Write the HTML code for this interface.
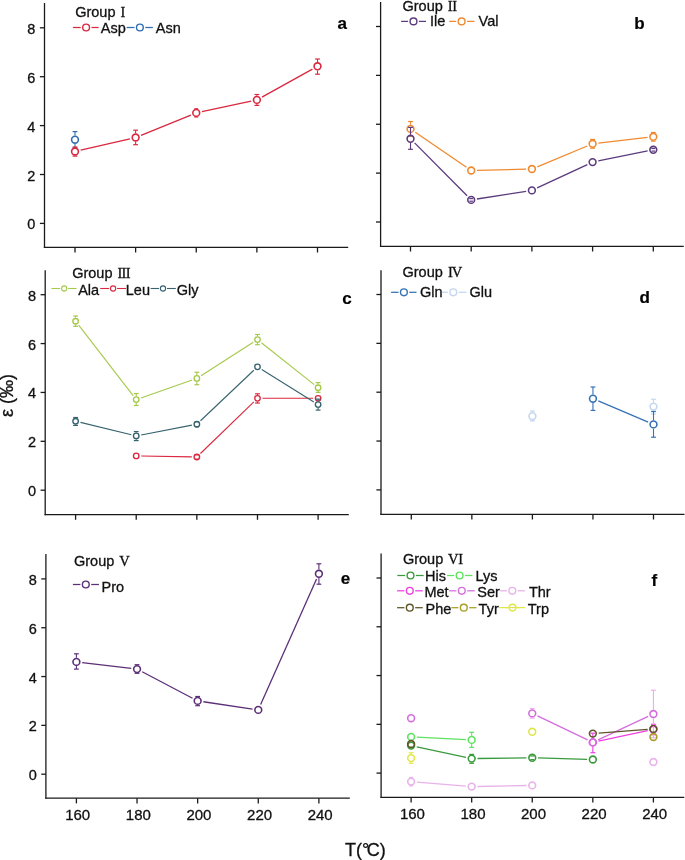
<!DOCTYPE html>
<html><head><meta charset="utf-8"><style>
html,body{margin:0;padding:0;background:#fff;width:685px;height:860px;overflow:hidden}
svg{display:block;will-change:transform}
text{stroke:#111;stroke-width:0.3px}
text.b{stroke:#000;stroke-width:0.2px}
</style></head><body>
<svg width="685" height="860" viewBox="0 0 685 860">
<rect width="685" height="860" fill="#fff"/>
<line x1="44.50" y1="3.00" x2="44.50" y2="247.95" stroke="#1a1a1a" stroke-width="1.3"/>
<line x1="43.85" y1="247.30" x2="348.20" y2="247.30" stroke="#1a1a1a" stroke-width="1.3"/>
<line x1="39.90" y1="223.40" x2="44.50" y2="223.40" stroke="#1a1a1a" stroke-width="1.3"/>
<text x="35.40" y="229.40" font-family="'Liberation Sans', sans-serif" font-size="14.5" font-weight="normal" text-anchor="end" fill="#111" >0</text>
<line x1="39.90" y1="174.50" x2="44.50" y2="174.50" stroke="#1a1a1a" stroke-width="1.3"/>
<text x="35.40" y="180.50" font-family="'Liberation Sans', sans-serif" font-size="14.5" font-weight="normal" text-anchor="end" fill="#111" >2</text>
<line x1="39.90" y1="125.60" x2="44.50" y2="125.60" stroke="#1a1a1a" stroke-width="1.3"/>
<text x="35.40" y="131.60" font-family="'Liberation Sans', sans-serif" font-size="14.5" font-weight="normal" text-anchor="end" fill="#111" >4</text>
<line x1="39.90" y1="76.70" x2="44.50" y2="76.70" stroke="#1a1a1a" stroke-width="1.3"/>
<text x="35.40" y="82.70" font-family="'Liberation Sans', sans-serif" font-size="14.5" font-weight="normal" text-anchor="end" fill="#111" >6</text>
<line x1="39.90" y1="27.80" x2="44.50" y2="27.80" stroke="#1a1a1a" stroke-width="1.3"/>
<text x="35.40" y="33.80" font-family="'Liberation Sans', sans-serif" font-size="14.5" font-weight="normal" text-anchor="end" fill="#111" >8</text>
<line x1="75.00" y1="247.30" x2="75.00" y2="252.50" stroke="#1a1a1a" stroke-width="1.3"/>
<line x1="135.62" y1="247.30" x2="135.62" y2="252.50" stroke="#1a1a1a" stroke-width="1.3"/>
<line x1="196.25" y1="247.30" x2="196.25" y2="252.50" stroke="#1a1a1a" stroke-width="1.3"/>
<line x1="256.88" y1="247.30" x2="256.88" y2="252.50" stroke="#1a1a1a" stroke-width="1.3"/>
<line x1="317.50" y1="247.30" x2="317.50" y2="252.50" stroke="#1a1a1a" stroke-width="1.3"/>
<line x1="380.60" y1="2.00" x2="380.60" y2="246.95" stroke="#1a1a1a" stroke-width="1.3"/>
<line x1="379.95" y1="246.30" x2="683.80" y2="246.30" stroke="#1a1a1a" stroke-width="1.3"/>
<line x1="376.00" y1="222.00" x2="380.60" y2="222.00" stroke="#1a1a1a" stroke-width="1.3"/>
<line x1="376.00" y1="173.12" x2="380.60" y2="173.12" stroke="#1a1a1a" stroke-width="1.3"/>
<line x1="376.00" y1="124.25" x2="380.60" y2="124.25" stroke="#1a1a1a" stroke-width="1.3"/>
<line x1="376.00" y1="75.38" x2="380.60" y2="75.38" stroke="#1a1a1a" stroke-width="1.3"/>
<line x1="376.00" y1="26.50" x2="380.60" y2="26.50" stroke="#1a1a1a" stroke-width="1.3"/>
<line x1="410.50" y1="246.30" x2="410.50" y2="251.50" stroke="#1a1a1a" stroke-width="1.3"/>
<line x1="471.20" y1="246.30" x2="471.20" y2="251.50" stroke="#1a1a1a" stroke-width="1.3"/>
<line x1="531.90" y1="246.30" x2="531.90" y2="251.50" stroke="#1a1a1a" stroke-width="1.3"/>
<line x1="592.60" y1="246.30" x2="592.60" y2="251.50" stroke="#1a1a1a" stroke-width="1.3"/>
<line x1="653.30" y1="246.30" x2="653.30" y2="251.50" stroke="#1a1a1a" stroke-width="1.3"/>
<line x1="45.20" y1="270.30" x2="45.20" y2="515.25" stroke="#1a1a1a" stroke-width="1.3"/>
<line x1="44.55" y1="514.60" x2="348.80" y2="514.60" stroke="#1a1a1a" stroke-width="1.3"/>
<line x1="40.60" y1="490.20" x2="45.20" y2="490.20" stroke="#1a1a1a" stroke-width="1.3"/>
<text x="36.10" y="496.20" font-family="'Liberation Sans', sans-serif" font-size="14.5" font-weight="normal" text-anchor="end" fill="#111" >0</text>
<line x1="40.60" y1="441.32" x2="45.20" y2="441.32" stroke="#1a1a1a" stroke-width="1.3"/>
<text x="36.10" y="447.32" font-family="'Liberation Sans', sans-serif" font-size="14.5" font-weight="normal" text-anchor="end" fill="#111" >2</text>
<line x1="40.60" y1="392.45" x2="45.20" y2="392.45" stroke="#1a1a1a" stroke-width="1.3"/>
<text x="36.10" y="398.45" font-family="'Liberation Sans', sans-serif" font-size="14.5" font-weight="normal" text-anchor="end" fill="#111" >4</text>
<line x1="40.60" y1="343.57" x2="45.20" y2="343.57" stroke="#1a1a1a" stroke-width="1.3"/>
<text x="36.10" y="349.57" font-family="'Liberation Sans', sans-serif" font-size="14.5" font-weight="normal" text-anchor="end" fill="#111" >6</text>
<line x1="40.60" y1="294.70" x2="45.20" y2="294.70" stroke="#1a1a1a" stroke-width="1.3"/>
<text x="36.10" y="300.70" font-family="'Liberation Sans', sans-serif" font-size="14.5" font-weight="normal" text-anchor="end" fill="#111" >8</text>
<line x1="75.60" y1="514.60" x2="75.60" y2="519.80" stroke="#1a1a1a" stroke-width="1.3"/>
<line x1="136.22" y1="514.60" x2="136.22" y2="519.80" stroke="#1a1a1a" stroke-width="1.3"/>
<line x1="196.85" y1="514.60" x2="196.85" y2="519.80" stroke="#1a1a1a" stroke-width="1.3"/>
<line x1="257.48" y1="514.60" x2="257.48" y2="519.80" stroke="#1a1a1a" stroke-width="1.3"/>
<line x1="318.10" y1="514.60" x2="318.10" y2="519.80" stroke="#1a1a1a" stroke-width="1.3"/>
<line x1="381.00" y1="270.30" x2="381.00" y2="514.95" stroke="#1a1a1a" stroke-width="1.3"/>
<line x1="380.35" y1="514.30" x2="684.50" y2="514.30" stroke="#1a1a1a" stroke-width="1.3"/>
<line x1="376.40" y1="489.90" x2="381.00" y2="489.90" stroke="#1a1a1a" stroke-width="1.3"/>
<line x1="376.40" y1="441.05" x2="381.00" y2="441.05" stroke="#1a1a1a" stroke-width="1.3"/>
<line x1="376.40" y1="392.20" x2="381.00" y2="392.20" stroke="#1a1a1a" stroke-width="1.3"/>
<line x1="376.40" y1="343.35" x2="381.00" y2="343.35" stroke="#1a1a1a" stroke-width="1.3"/>
<line x1="376.40" y1="294.50" x2="381.00" y2="294.50" stroke="#1a1a1a" stroke-width="1.3"/>
<line x1="411.30" y1="514.30" x2="411.30" y2="519.50" stroke="#1a1a1a" stroke-width="1.3"/>
<line x1="471.85" y1="514.30" x2="471.85" y2="519.50" stroke="#1a1a1a" stroke-width="1.3"/>
<line x1="532.40" y1="514.30" x2="532.40" y2="519.50" stroke="#1a1a1a" stroke-width="1.3"/>
<line x1="592.95" y1="514.30" x2="592.95" y2="519.50" stroke="#1a1a1a" stroke-width="1.3"/>
<line x1="653.50" y1="514.30" x2="653.50" y2="519.50" stroke="#1a1a1a" stroke-width="1.3"/>
<line x1="45.90" y1="554.00" x2="45.90" y2="798.85" stroke="#1a1a1a" stroke-width="1.3"/>
<line x1="45.25" y1="798.20" x2="349.80" y2="798.20" stroke="#1a1a1a" stroke-width="1.3"/>
<line x1="41.30" y1="774.20" x2="45.90" y2="774.20" stroke="#1a1a1a" stroke-width="1.3"/>
<text x="36.80" y="780.20" font-family="'Liberation Sans', sans-serif" font-size="14.5" font-weight="normal" text-anchor="end" fill="#111" >0</text>
<line x1="41.30" y1="725.38" x2="45.90" y2="725.38" stroke="#1a1a1a" stroke-width="1.3"/>
<text x="36.80" y="731.38" font-family="'Liberation Sans', sans-serif" font-size="14.5" font-weight="normal" text-anchor="end" fill="#111" >2</text>
<line x1="41.30" y1="676.55" x2="45.90" y2="676.55" stroke="#1a1a1a" stroke-width="1.3"/>
<text x="36.80" y="682.55" font-family="'Liberation Sans', sans-serif" font-size="14.5" font-weight="normal" text-anchor="end" fill="#111" >4</text>
<line x1="41.30" y1="627.73" x2="45.90" y2="627.73" stroke="#1a1a1a" stroke-width="1.3"/>
<text x="36.80" y="633.73" font-family="'Liberation Sans', sans-serif" font-size="14.5" font-weight="normal" text-anchor="end" fill="#111" >6</text>
<line x1="41.30" y1="578.90" x2="45.90" y2="578.90" stroke="#1a1a1a" stroke-width="1.3"/>
<text x="36.80" y="584.90" font-family="'Liberation Sans', sans-serif" font-size="14.5" font-weight="normal" text-anchor="end" fill="#111" >8</text>
<line x1="76.40" y1="798.20" x2="76.40" y2="803.40" stroke="#1a1a1a" stroke-width="1.3"/>
<text x="77.70" y="819.80" font-family="'Liberation Sans', sans-serif" font-size="15" font-weight="normal" text-anchor="middle" fill="#111" >160</text>
<line x1="137.03" y1="798.20" x2="137.03" y2="803.40" stroke="#1a1a1a" stroke-width="1.3"/>
<text x="138.33" y="819.80" font-family="'Liberation Sans', sans-serif" font-size="15" font-weight="normal" text-anchor="middle" fill="#111" >180</text>
<line x1="197.65" y1="798.20" x2="197.65" y2="803.40" stroke="#1a1a1a" stroke-width="1.3"/>
<text x="198.95" y="819.80" font-family="'Liberation Sans', sans-serif" font-size="15" font-weight="normal" text-anchor="middle" fill="#111" >200</text>
<line x1="258.27" y1="798.20" x2="258.27" y2="803.40" stroke="#1a1a1a" stroke-width="1.3"/>
<text x="259.57" y="819.80" font-family="'Liberation Sans', sans-serif" font-size="15" font-weight="normal" text-anchor="middle" fill="#111" >220</text>
<line x1="318.90" y1="798.20" x2="318.90" y2="803.40" stroke="#1a1a1a" stroke-width="1.3"/>
<text x="320.20" y="819.80" font-family="'Liberation Sans', sans-serif" font-size="15" font-weight="normal" text-anchor="middle" fill="#111" >240</text>
<line x1="381.10" y1="553.40" x2="381.10" y2="797.95" stroke="#1a1a1a" stroke-width="1.3"/>
<line x1="380.45" y1="797.30" x2="684.30" y2="797.30" stroke="#1a1a1a" stroke-width="1.3"/>
<line x1="376.50" y1="773.10" x2="381.10" y2="773.10" stroke="#1a1a1a" stroke-width="1.3"/>
<line x1="376.50" y1="724.33" x2="381.10" y2="724.33" stroke="#1a1a1a" stroke-width="1.3"/>
<line x1="376.50" y1="675.55" x2="381.10" y2="675.55" stroke="#1a1a1a" stroke-width="1.3"/>
<line x1="376.50" y1="626.77" x2="381.10" y2="626.77" stroke="#1a1a1a" stroke-width="1.3"/>
<line x1="376.50" y1="578.00" x2="381.10" y2="578.00" stroke="#1a1a1a" stroke-width="1.3"/>
<line x1="411.10" y1="797.30" x2="411.10" y2="802.50" stroke="#1a1a1a" stroke-width="1.3"/>
<text x="412.40" y="818.90" font-family="'Liberation Sans', sans-serif" font-size="15" font-weight="normal" text-anchor="middle" fill="#111" >160</text>
<line x1="471.68" y1="797.30" x2="471.68" y2="802.50" stroke="#1a1a1a" stroke-width="1.3"/>
<text x="472.98" y="818.90" font-family="'Liberation Sans', sans-serif" font-size="15" font-weight="normal" text-anchor="middle" fill="#111" >180</text>
<line x1="532.25" y1="797.30" x2="532.25" y2="802.50" stroke="#1a1a1a" stroke-width="1.3"/>
<text x="533.55" y="818.90" font-family="'Liberation Sans', sans-serif" font-size="15" font-weight="normal" text-anchor="middle" fill="#111" >200</text>
<line x1="592.83" y1="797.30" x2="592.83" y2="802.50" stroke="#1a1a1a" stroke-width="1.3"/>
<text x="594.12" y="818.90" font-family="'Liberation Sans', sans-serif" font-size="15" font-weight="normal" text-anchor="middle" fill="#111" >220</text>
<line x1="653.40" y1="797.30" x2="653.40" y2="802.50" stroke="#1a1a1a" stroke-width="1.3"/>
<text x="654.70" y="818.90" font-family="'Liberation Sans', sans-serif" font-size="15" font-weight="normal" text-anchor="middle" fill="#111" >240</text>
<line x1="75.00" y1="131.60" x2="75.00" y2="135.50" stroke="#2f6db3" stroke-width="1.1"/>
<line x1="75.00" y1="143.90" x2="75.00" y2="147.80" stroke="#2f6db3" stroke-width="1.1"/>
<line x1="72.60" y1="131.60" x2="77.40" y2="131.60" stroke="#2f6db3" stroke-width="1.2"/>
<line x1="72.60" y1="147.80" x2="77.40" y2="147.80" stroke="#2f6db3" stroke-width="1.2"/>
<circle cx="75.00" cy="139.70" r="3.4" fill="none" stroke="#2f6db3" stroke-width="1.6"/>
<line x1="80.65" y1="150.19" x2="129.97" y2="138.81" stroke="#d9283f" stroke-width="1.3"/>
<line x1="141.00" y1="135.32" x2="190.88" y2="115.08" stroke="#d9283f" stroke-width="1.3"/>
<line x1="201.92" y1="111.68" x2="251.20" y2="101.12" stroke="#d9283f" stroke-width="1.3"/>
<line x1="261.95" y1="97.09" x2="312.43" y2="69.11" stroke="#d9283f" stroke-width="1.3"/>
<line x1="75.00" y1="147.00" x2="75.00" y2="147.30" stroke="#d9283f" stroke-width="1.1"/>
<line x1="75.00" y1="155.70" x2="75.00" y2="156.10" stroke="#d9283f" stroke-width="1.1"/>
<line x1="72.60" y1="147.00" x2="77.40" y2="147.00" stroke="#d9283f" stroke-width="1.2"/>
<line x1="72.60" y1="156.10" x2="77.40" y2="156.10" stroke="#d9283f" stroke-width="1.2"/>
<circle cx="75.00" cy="151.50" r="3.4" fill="none" stroke="#d9283f" stroke-width="1.6"/>
<line x1="135.62" y1="130.20" x2="135.62" y2="133.30" stroke="#d9283f" stroke-width="1.1"/>
<line x1="135.62" y1="141.70" x2="135.62" y2="144.70" stroke="#d9283f" stroke-width="1.1"/>
<line x1="133.22" y1="130.20" x2="138.03" y2="130.20" stroke="#d9283f" stroke-width="1.2"/>
<line x1="133.22" y1="144.70" x2="138.03" y2="144.70" stroke="#d9283f" stroke-width="1.2"/>
<circle cx="135.62" cy="137.50" r="3.4" fill="none" stroke="#d9283f" stroke-width="1.6"/>
<line x1="194.35" y1="108.80" x2="198.15" y2="108.80" stroke="#d9283f" stroke-width="1.2"/>
<line x1="194.35" y1="117.00" x2="198.15" y2="117.00" stroke="#d9283f" stroke-width="1.2"/>
<circle cx="196.25" cy="112.90" r="3.4" fill="none" stroke="#d9283f" stroke-width="1.6"/>
<line x1="256.88" y1="94.50" x2="256.88" y2="95.70" stroke="#d9283f" stroke-width="1.1"/>
<line x1="256.88" y1="104.10" x2="256.88" y2="105.40" stroke="#d9283f" stroke-width="1.1"/>
<line x1="254.47" y1="94.50" x2="259.27" y2="94.50" stroke="#d9283f" stroke-width="1.2"/>
<line x1="254.47" y1="105.40" x2="259.27" y2="105.40" stroke="#d9283f" stroke-width="1.2"/>
<circle cx="256.88" cy="99.90" r="3.4" fill="none" stroke="#d9283f" stroke-width="1.6"/>
<line x1="317.50" y1="59.00" x2="317.50" y2="62.10" stroke="#d9283f" stroke-width="1.1"/>
<line x1="317.50" y1="70.50" x2="317.50" y2="74.20" stroke="#d9283f" stroke-width="1.1"/>
<line x1="315.10" y1="59.00" x2="319.90" y2="59.00" stroke="#d9283f" stroke-width="1.2"/>
<line x1="315.10" y1="74.20" x2="319.90" y2="74.20" stroke="#d9283f" stroke-width="1.2"/>
<circle cx="317.50" cy="66.30" r="3.4" fill="none" stroke="#d9283f" stroke-width="1.6"/>
<line x1="415.28" y1="132.18" x2="466.42" y2="167.22" stroke="#f08a30" stroke-width="1.3"/>
<line x1="477.00" y1="170.36" x2="526.10" y2="169.14" stroke="#f08a30" stroke-width="1.3"/>
<line x1="537.26" y1="166.78" x2="587.24" y2="146.02" stroke="#f08a30" stroke-width="1.3"/>
<line x1="598.36" y1="143.14" x2="647.54" y2="137.46" stroke="#f08a30" stroke-width="1.3"/>
<line x1="410.50" y1="121.50" x2="410.50" y2="124.70" stroke="#f08a30" stroke-width="1.1"/>
<line x1="410.50" y1="133.10" x2="410.50" y2="136.30" stroke="#f08a30" stroke-width="1.1"/>
<line x1="408.10" y1="121.50" x2="412.90" y2="121.50" stroke="#f08a30" stroke-width="1.2"/>
<line x1="408.10" y1="136.30" x2="412.90" y2="136.30" stroke="#f08a30" stroke-width="1.2"/>
<circle cx="410.50" cy="128.90" r="3.4" fill="none" stroke="#f08a30" stroke-width="1.6"/>
<circle cx="471.20" cy="170.50" r="3.4" fill="none" stroke="#f08a30" stroke-width="1.6"/>
<circle cx="531.90" cy="169.00" r="3.4" fill="none" stroke="#f08a30" stroke-width="1.6"/>
<line x1="592.60" y1="139.40" x2="592.60" y2="139.60" stroke="#f08a30" stroke-width="1.1"/>
<line x1="592.60" y1="148.00" x2="592.60" y2="148.20" stroke="#f08a30" stroke-width="1.1"/>
<line x1="590.20" y1="139.40" x2="595.00" y2="139.40" stroke="#f08a30" stroke-width="1.2"/>
<line x1="590.20" y1="148.20" x2="595.00" y2="148.20" stroke="#f08a30" stroke-width="1.2"/>
<circle cx="592.60" cy="143.80" r="3.4" fill="none" stroke="#f08a30" stroke-width="1.6"/>
<line x1="653.30" y1="132.50" x2="653.30" y2="132.60" stroke="#f08a30" stroke-width="1.1"/>
<line x1="653.30" y1="141.00" x2="653.30" y2="141.10" stroke="#f08a30" stroke-width="1.1"/>
<line x1="650.90" y1="132.50" x2="655.70" y2="132.50" stroke="#f08a30" stroke-width="1.2"/>
<line x1="650.90" y1="141.10" x2="655.70" y2="141.10" stroke="#f08a30" stroke-width="1.2"/>
<circle cx="653.30" cy="136.80" r="3.4" fill="none" stroke="#f08a30" stroke-width="1.6"/>
<line x1="414.59" y1="142.91" x2="467.11" y2="195.79" stroke="#5b3b7d" stroke-width="1.3"/>
<line x1="476.93" y1="199.00" x2="526.17" y2="191.30" stroke="#5b3b7d" stroke-width="1.3"/>
<line x1="537.16" y1="187.95" x2="587.34" y2="164.55" stroke="#5b3b7d" stroke-width="1.3"/>
<line x1="598.28" y1="160.95" x2="647.62" y2="150.95" stroke="#5b3b7d" stroke-width="1.3"/>
<line x1="410.50" y1="127.40" x2="410.50" y2="134.60" stroke="#5b3b7d" stroke-width="1.1"/>
<line x1="410.50" y1="143.00" x2="410.50" y2="149.30" stroke="#5b3b7d" stroke-width="1.1"/>
<line x1="408.10" y1="127.40" x2="412.90" y2="127.40" stroke="#5b3b7d" stroke-width="1.2"/>
<line x1="408.10" y1="149.30" x2="412.90" y2="149.30" stroke="#5b3b7d" stroke-width="1.2"/>
<circle cx="410.50" cy="138.80" r="3.4" fill="none" stroke="#5b3b7d" stroke-width="1.6"/>
<line x1="469.30" y1="198.60" x2="473.10" y2="198.60" stroke="#5b3b7d" stroke-width="1.2"/>
<line x1="469.30" y1="201.20" x2="473.10" y2="201.20" stroke="#5b3b7d" stroke-width="1.2"/>
<circle cx="471.20" cy="199.90" r="3.4" fill="none" stroke="#5b3b7d" stroke-width="1.6"/>
<circle cx="531.90" cy="190.40" r="3.4" fill="none" stroke="#5b3b7d" stroke-width="1.6"/>
<circle cx="592.60" cy="162.10" r="3.4" fill="none" stroke="#5b3b7d" stroke-width="1.6"/>
<line x1="651.40" y1="148.50" x2="655.20" y2="148.50" stroke="#5b3b7d" stroke-width="1.2"/>
<line x1="651.40" y1="151.10" x2="655.20" y2="151.10" stroke="#5b3b7d" stroke-width="1.2"/>
<circle cx="653.30" cy="149.80" r="3.4" fill="none" stroke="#5b3b7d" stroke-width="1.6"/>
<line x1="78.67" y1="325.18" x2="133.15" y2="395.62" stroke="#a5c94a" stroke-width="1.1"/>
<line x1="140.97" y1="397.94" x2="192.11" y2="380.06" stroke="#a5c94a" stroke-width="1.1"/>
<line x1="201.08" y1="375.69" x2="253.24" y2="342.31" stroke="#a5c94a" stroke-width="1.1"/>
<line x1="261.41" y1="342.72" x2="314.16" y2="384.58" stroke="#a5c94a" stroke-width="1.1"/>
<line x1="75.60" y1="316.00" x2="75.60" y2="317.77" stroke="#a5c94a" stroke-width="1.1"/>
<line x1="75.60" y1="324.62" x2="75.60" y2="326.30" stroke="#a5c94a" stroke-width="1.1"/>
<line x1="73.20" y1="316.00" x2="78.00" y2="316.00" stroke="#a5c94a" stroke-width="1.2"/>
<line x1="73.20" y1="326.30" x2="78.00" y2="326.30" stroke="#a5c94a" stroke-width="1.2"/>
<circle cx="75.60" cy="321.20" r="2.75" fill="none" stroke="#a5c94a" stroke-width="1.35"/>
<line x1="136.22" y1="393.50" x2="136.22" y2="396.18" stroke="#a5c94a" stroke-width="1.1"/>
<line x1="136.22" y1="403.03" x2="136.22" y2="405.50" stroke="#a5c94a" stroke-width="1.1"/>
<line x1="133.82" y1="393.50" x2="138.62" y2="393.50" stroke="#a5c94a" stroke-width="1.2"/>
<line x1="133.82" y1="405.50" x2="138.62" y2="405.50" stroke="#a5c94a" stroke-width="1.2"/>
<circle cx="136.22" cy="399.60" r="2.75" fill="none" stroke="#a5c94a" stroke-width="1.35"/>
<line x1="196.85" y1="372.30" x2="196.85" y2="374.97" stroke="#a5c94a" stroke-width="1.1"/>
<line x1="196.85" y1="381.82" x2="196.85" y2="384.70" stroke="#a5c94a" stroke-width="1.1"/>
<line x1="194.45" y1="372.30" x2="199.25" y2="372.30" stroke="#a5c94a" stroke-width="1.2"/>
<line x1="194.45" y1="384.70" x2="199.25" y2="384.70" stroke="#a5c94a" stroke-width="1.2"/>
<circle cx="196.85" cy="378.40" r="2.75" fill="none" stroke="#a5c94a" stroke-width="1.35"/>
<line x1="257.48" y1="334.50" x2="257.48" y2="336.18" stroke="#a5c94a" stroke-width="1.1"/>
<line x1="257.48" y1="343.03" x2="257.48" y2="344.70" stroke="#a5c94a" stroke-width="1.1"/>
<line x1="255.08" y1="334.50" x2="259.88" y2="334.50" stroke="#a5c94a" stroke-width="1.2"/>
<line x1="255.08" y1="344.70" x2="259.88" y2="344.70" stroke="#a5c94a" stroke-width="1.2"/>
<circle cx="257.48" cy="339.60" r="2.75" fill="none" stroke="#a5c94a" stroke-width="1.35"/>
<line x1="318.10" y1="382.60" x2="318.10" y2="384.27" stroke="#a5c94a" stroke-width="1.1"/>
<line x1="318.10" y1="391.12" x2="318.10" y2="392.40" stroke="#a5c94a" stroke-width="1.1"/>
<line x1="315.70" y1="382.60" x2="320.50" y2="382.60" stroke="#a5c94a" stroke-width="1.2"/>
<line x1="315.70" y1="392.40" x2="320.50" y2="392.40" stroke="#a5c94a" stroke-width="1.2"/>
<circle cx="318.10" cy="387.70" r="2.75" fill="none" stroke="#a5c94a" stroke-width="1.35"/>
<line x1="141.25" y1="455.99" x2="191.83" y2="456.91" stroke="#d9283f" stroke-width="1.1"/>
<line x1="200.46" y1="453.50" x2="253.86" y2="401.80" stroke="#d9283f" stroke-width="1.1"/>
<line x1="262.50" y1="398.30" x2="313.08" y2="398.30" stroke="#d9283f" stroke-width="1.1"/>
<circle cx="136.22" cy="455.90" r="2.75" fill="none" stroke="#d9283f" stroke-width="1.35"/>
<line x1="194.95" y1="454.80" x2="198.75" y2="454.80" stroke="#d9283f" stroke-width="1.2"/>
<line x1="194.95" y1="459.20" x2="198.75" y2="459.20" stroke="#d9283f" stroke-width="1.2"/>
<circle cx="196.85" cy="457.00" r="2.75" fill="none" stroke="#d9283f" stroke-width="1.35"/>
<line x1="257.48" y1="393.80" x2="257.48" y2="394.88" stroke="#d9283f" stroke-width="1.1"/>
<line x1="257.48" y1="401.73" x2="257.48" y2="403.00" stroke="#d9283f" stroke-width="1.1"/>
<line x1="255.08" y1="393.80" x2="259.88" y2="393.80" stroke="#d9283f" stroke-width="1.2"/>
<line x1="255.08" y1="403.00" x2="259.88" y2="403.00" stroke="#d9283f" stroke-width="1.2"/>
<circle cx="257.48" cy="398.30" r="2.75" fill="none" stroke="#d9283f" stroke-width="1.35"/>
<circle cx="318.10" cy="398.30" r="2.75" fill="none" stroke="#d9283f" stroke-width="1.35"/>
<line x1="80.48" y1="422.38" x2="131.34" y2="434.72" stroke="#36636f" stroke-width="1.1"/>
<line x1="141.16" y1="434.95" x2="191.92" y2="425.15" stroke="#36636f" stroke-width="1.1"/>
<line x1="200.50" y1="420.75" x2="253.83" y2="370.25" stroke="#36636f" stroke-width="1.1"/>
<line x1="261.74" y1="369.46" x2="313.84" y2="401.94" stroke="#36636f" stroke-width="1.1"/>
<line x1="75.60" y1="417.50" x2="75.60" y2="417.77" stroke="#36636f" stroke-width="1.1"/>
<line x1="75.60" y1="424.62" x2="75.60" y2="425.40" stroke="#36636f" stroke-width="1.1"/>
<line x1="73.20" y1="417.50" x2="78.00" y2="417.50" stroke="#36636f" stroke-width="1.2"/>
<line x1="73.20" y1="425.40" x2="78.00" y2="425.40" stroke="#36636f" stroke-width="1.2"/>
<circle cx="75.60" cy="421.20" r="2.75" fill="none" stroke="#36636f" stroke-width="1.35"/>
<line x1="136.22" y1="431.60" x2="136.22" y2="432.47" stroke="#36636f" stroke-width="1.1"/>
<line x1="136.22" y1="439.32" x2="136.22" y2="440.60" stroke="#36636f" stroke-width="1.1"/>
<line x1="133.82" y1="431.60" x2="138.62" y2="431.60" stroke="#36636f" stroke-width="1.2"/>
<line x1="133.82" y1="440.60" x2="138.62" y2="440.60" stroke="#36636f" stroke-width="1.2"/>
<circle cx="136.22" cy="435.90" r="2.75" fill="none" stroke="#36636f" stroke-width="1.35"/>
<line x1="194.95" y1="421.70" x2="198.75" y2="421.70" stroke="#36636f" stroke-width="1.2"/>
<line x1="194.95" y1="426.70" x2="198.75" y2="426.70" stroke="#36636f" stroke-width="1.2"/>
<circle cx="196.85" cy="424.20" r="2.75" fill="none" stroke="#36636f" stroke-width="1.35"/>
<circle cx="257.48" cy="366.80" r="2.75" fill="none" stroke="#36636f" stroke-width="1.35"/>
<line x1="318.10" y1="399.10" x2="318.10" y2="401.18" stroke="#36636f" stroke-width="1.1"/>
<line x1="318.10" y1="408.03" x2="318.10" y2="410.10" stroke="#36636f" stroke-width="1.1"/>
<line x1="315.70" y1="399.10" x2="320.50" y2="399.10" stroke="#36636f" stroke-width="1.2"/>
<line x1="315.70" y1="410.10" x2="320.50" y2="410.10" stroke="#36636f" stroke-width="1.2"/>
<circle cx="318.10" cy="404.60" r="2.75" fill="none" stroke="#36636f" stroke-width="1.35"/>
<line x1="532.40" y1="411.10" x2="532.40" y2="412.00" stroke="#c4d7ee" stroke-width="1.1"/>
<line x1="532.40" y1="420.40" x2="532.40" y2="420.90" stroke="#c4d7ee" stroke-width="1.1"/>
<line x1="530.00" y1="411.10" x2="534.80" y2="411.10" stroke="#c4d7ee" stroke-width="1.2"/>
<line x1="530.00" y1="420.90" x2="534.80" y2="420.90" stroke="#c4d7ee" stroke-width="1.2"/>
<circle cx="532.40" cy="416.20" r="3.4" fill="none" stroke="#c4d7ee" stroke-width="1.6"/>
<line x1="653.50" y1="399.30" x2="653.50" y2="402.40" stroke="#c4d7ee" stroke-width="1.1"/>
<line x1="653.50" y1="410.80" x2="653.50" y2="414.00" stroke="#c4d7ee" stroke-width="1.1"/>
<line x1="651.10" y1="399.30" x2="655.90" y2="399.30" stroke="#c4d7ee" stroke-width="1.2"/>
<line x1="651.10" y1="414.00" x2="655.90" y2="414.00" stroke="#c4d7ee" stroke-width="1.2"/>
<circle cx="653.50" cy="406.60" r="3.4" fill="none" stroke="#c4d7ee" stroke-width="1.6"/>
<line x1="598.29" y1="400.97" x2="648.16" y2="422.13" stroke="#3672b6" stroke-width="1.3"/>
<line x1="592.95" y1="387.00" x2="592.95" y2="394.50" stroke="#3672b6" stroke-width="1.1"/>
<line x1="592.95" y1="402.90" x2="592.95" y2="410.40" stroke="#3672b6" stroke-width="1.1"/>
<line x1="590.55" y1="387.00" x2="595.35" y2="387.00" stroke="#3672b6" stroke-width="1.2"/>
<line x1="590.55" y1="410.40" x2="595.35" y2="410.40" stroke="#3672b6" stroke-width="1.2"/>
<circle cx="592.95" cy="398.70" r="3.4" fill="none" stroke="#3672b6" stroke-width="1.6"/>
<line x1="653.50" y1="411.50" x2="653.50" y2="420.20" stroke="#3672b6" stroke-width="1.1"/>
<line x1="653.50" y1="428.60" x2="653.50" y2="437.20" stroke="#3672b6" stroke-width="1.1"/>
<line x1="651.10" y1="411.50" x2="655.90" y2="411.50" stroke="#3672b6" stroke-width="1.2"/>
<line x1="651.10" y1="437.20" x2="655.90" y2="437.20" stroke="#3672b6" stroke-width="1.2"/>
<circle cx="653.50" cy="424.40" r="3.4" fill="none" stroke="#3672b6" stroke-width="1.6"/>
<line x1="82.16" y1="662.58" x2="131.27" y2="668.42" stroke="#5c2f77" stroke-width="1.3"/>
<line x1="142.16" y1="671.79" x2="192.51" y2="698.21" stroke="#5c2f77" stroke-width="1.3"/>
<line x1="203.39" y1="701.75" x2="252.54" y2="709.05" stroke="#5c2f77" stroke-width="1.3"/>
<line x1="260.64" y1="704.60" x2="316.54" y2="579.10" stroke="#5c2f77" stroke-width="1.3"/>
<line x1="76.40" y1="653.80" x2="76.40" y2="657.70" stroke="#5c2f77" stroke-width="1.1"/>
<line x1="76.40" y1="666.10" x2="76.40" y2="669.10" stroke="#5c2f77" stroke-width="1.1"/>
<line x1="74.00" y1="653.80" x2="78.80" y2="653.80" stroke="#5c2f77" stroke-width="1.2"/>
<line x1="74.00" y1="669.10" x2="78.80" y2="669.10" stroke="#5c2f77" stroke-width="1.2"/>
<circle cx="76.40" cy="661.90" r="3.4" fill="none" stroke="#5c2f77" stroke-width="1.6"/>
<line x1="137.03" y1="664.70" x2="137.03" y2="664.90" stroke="#5c2f77" stroke-width="1.1"/>
<line x1="134.62" y1="664.70" x2="139.43" y2="664.70" stroke="#5c2f77" stroke-width="1.2"/>
<line x1="134.62" y1="673.30" x2="139.43" y2="673.30" stroke="#5c2f77" stroke-width="1.2"/>
<circle cx="137.03" cy="669.10" r="3.4" fill="none" stroke="#5c2f77" stroke-width="1.6"/>
<line x1="197.65" y1="696.50" x2="197.65" y2="696.70" stroke="#5c2f77" stroke-width="1.1"/>
<line x1="197.65" y1="705.10" x2="197.65" y2="705.70" stroke="#5c2f77" stroke-width="1.1"/>
<line x1="195.25" y1="696.50" x2="200.05" y2="696.50" stroke="#5c2f77" stroke-width="1.2"/>
<line x1="195.25" y1="705.70" x2="200.05" y2="705.70" stroke="#5c2f77" stroke-width="1.2"/>
<circle cx="197.65" cy="700.90" r="3.4" fill="none" stroke="#5c2f77" stroke-width="1.6"/>
<circle cx="258.27" cy="709.90" r="3.4" fill="none" stroke="#5c2f77" stroke-width="1.6"/>
<line x1="318.90" y1="563.80" x2="318.90" y2="569.60" stroke="#5c2f77" stroke-width="1.1"/>
<line x1="318.90" y1="578.00" x2="318.90" y2="584.20" stroke="#5c2f77" stroke-width="1.1"/>
<line x1="316.50" y1="563.80" x2="321.30" y2="563.80" stroke="#5c2f77" stroke-width="1.2"/>
<line x1="316.50" y1="584.20" x2="321.30" y2="584.20" stroke="#5c2f77" stroke-width="1.2"/>
<circle cx="318.90" cy="573.80" r="3.4" fill="none" stroke="#5c2f77" stroke-width="1.6"/>
<line x1="416.88" y1="782.08" x2="465.89" y2="786.12" stroke="#e8b2ea" stroke-width="1.3"/>
<line x1="477.47" y1="786.49" x2="526.45" y2="785.51" stroke="#e8b2ea" stroke-width="1.3"/>
<line x1="411.10" y1="785.80" x2="411.10" y2="785.90" stroke="#e8b2ea" stroke-width="1.1"/>
<line x1="409.20" y1="777.50" x2="413.00" y2="777.50" stroke="#e8b2ea" stroke-width="1.2"/>
<line x1="409.20" y1="785.90" x2="413.00" y2="785.90" stroke="#e8b2ea" stroke-width="1.2"/>
<circle cx="411.10" cy="781.60" r="3.4" fill="none" stroke="#e8b2ea" stroke-width="1.6"/>
<circle cx="471.68" cy="786.60" r="3.4" fill="none" stroke="#e8b2ea" stroke-width="1.6"/>
<circle cx="532.25" cy="785.40" r="3.4" fill="none" stroke="#e8b2ea" stroke-width="1.6"/>
<circle cx="653.40" cy="762.00" r="3.4" fill="none" stroke="#e8b2ea" stroke-width="1.6"/>
<line x1="598.50" y1="741.19" x2="647.73" y2="730.71" stroke="#ef3fe0" stroke-width="1.3"/>
<line x1="592.83" y1="733.20" x2="592.83" y2="738.20" stroke="#ef3fe0" stroke-width="1.1"/>
<line x1="592.83" y1="746.60" x2="592.83" y2="752.70" stroke="#ef3fe0" stroke-width="1.1"/>
<line x1="590.43" y1="733.20" x2="595.23" y2="733.20" stroke="#ef3fe0" stroke-width="1.2"/>
<line x1="590.43" y1="752.70" x2="595.23" y2="752.70" stroke="#ef3fe0" stroke-width="1.2"/>
<circle cx="592.83" cy="742.40" r="3.4" fill="none" stroke="#ef3fe0" stroke-width="1.6"/>
<line x1="653.40" y1="724.30" x2="653.40" y2="725.30" stroke="#ef3fe0" stroke-width="1.1"/>
<line x1="653.40" y1="733.70" x2="653.40" y2="734.70" stroke="#ef3fe0" stroke-width="1.1"/>
<line x1="651.00" y1="724.30" x2="655.80" y2="724.30" stroke="#ef3fe0" stroke-width="1.2"/>
<line x1="651.00" y1="734.70" x2="655.80" y2="734.70" stroke="#ef3fe0" stroke-width="1.2"/>
<circle cx="653.40" cy="729.50" r="3.4" fill="none" stroke="#ef3fe0" stroke-width="1.6"/>
<line x1="537.48" y1="715.90" x2="587.59" y2="739.90" stroke="#d46edd" stroke-width="1.3"/>
<line x1="598.08" y1="739.94" x2="648.15" y2="716.46" stroke="#d46edd" stroke-width="1.3"/>
<circle cx="411.10" cy="718.20" r="3.4" fill="none" stroke="#d46edd" stroke-width="1.6"/>
<line x1="532.25" y1="708.50" x2="532.25" y2="709.20" stroke="#eeaaee" stroke-width="1.1"/>
<line x1="532.25" y1="717.60" x2="532.25" y2="718.10" stroke="#eeaaee" stroke-width="1.1"/>
<line x1="529.85" y1="708.50" x2="534.65" y2="708.50" stroke="#eeaaee" stroke-width="1.2"/>
<line x1="529.85" y1="718.10" x2="534.65" y2="718.10" stroke="#eeaaee" stroke-width="1.2"/>
<circle cx="532.25" cy="713.40" r="3.4" fill="none" stroke="#d46edd" stroke-width="1.6"/>
<circle cx="592.83" cy="742.40" r="3.4" fill="none" stroke="#d46edd" stroke-width="1.6"/>
<line x1="653.40" y1="690.20" x2="653.40" y2="709.80" stroke="#eeaaee" stroke-width="1.1"/>
<line x1="653.40" y1="718.20" x2="653.40" y2="737.80" stroke="#eeaaee" stroke-width="1.1"/>
<line x1="651.00" y1="690.20" x2="655.80" y2="690.20" stroke="#eeaaee" stroke-width="1.2"/>
<line x1="651.00" y1="737.80" x2="655.80" y2="737.80" stroke="#eeaaee" stroke-width="1.2"/>
<circle cx="653.40" cy="714.00" r="3.4" fill="none" stroke="#d46edd" stroke-width="1.6"/>
<line x1="411.10" y1="752.80" x2="411.10" y2="753.90" stroke="#e0e64a" stroke-width="1.1"/>
<line x1="411.10" y1="762.30" x2="411.10" y2="763.30" stroke="#e0e64a" stroke-width="1.1"/>
<line x1="408.70" y1="752.80" x2="413.50" y2="752.80" stroke="#e0e64a" stroke-width="1.2"/>
<line x1="408.70" y1="763.30" x2="413.50" y2="763.30" stroke="#e0e64a" stroke-width="1.2"/>
<circle cx="411.10" cy="758.10" r="3.4" fill="none" stroke="#e0e64a" stroke-width="1.6"/>
<circle cx="532.25" cy="731.80" r="3.4" fill="none" stroke="#e0e64a" stroke-width="1.6"/>
<circle cx="653.40" cy="737.00" r="3.4" fill="none" stroke="#a6a024" stroke-width="1.6"/>
<line x1="416.89" y1="737.19" x2="465.88" y2="739.61" stroke="#5de35d" stroke-width="1.3"/>
<circle cx="411.10" cy="736.90" r="3.4" fill="none" stroke="#5de35d" stroke-width="1.6"/>
<line x1="471.68" y1="732.30" x2="471.68" y2="735.70" stroke="#5de35d" stroke-width="1.1"/>
<line x1="471.68" y1="744.10" x2="471.68" y2="747.40" stroke="#5de35d" stroke-width="1.1"/>
<line x1="469.28" y1="732.30" x2="474.07" y2="732.30" stroke="#5de35d" stroke-width="1.2"/>
<line x1="469.28" y1="747.40" x2="474.07" y2="747.40" stroke="#5de35d" stroke-width="1.2"/>
<circle cx="471.68" cy="739.90" r="3.4" fill="none" stroke="#5de35d" stroke-width="1.6"/>
<line x1="416.77" y1="746.82" x2="466.00" y2="757.38" stroke="#3a9a3c" stroke-width="1.3"/>
<line x1="477.47" y1="758.52" x2="526.45" y2="757.88" stroke="#3a9a3c" stroke-width="1.3"/>
<line x1="538.05" y1="757.96" x2="587.03" y2="759.34" stroke="#3a9a3c" stroke-width="1.3"/>
<circle cx="411.10" cy="745.60" r="3.4" fill="none" stroke="#3a9a3c" stroke-width="1.6"/>
<line x1="471.68" y1="754.40" x2="471.68" y2="754.40" stroke="#3a9a3c" stroke-width="1.1"/>
<line x1="471.68" y1="762.80" x2="471.68" y2="763.30" stroke="#3a9a3c" stroke-width="1.1"/>
<line x1="469.28" y1="754.40" x2="474.07" y2="754.40" stroke="#3a9a3c" stroke-width="1.2"/>
<line x1="469.28" y1="763.30" x2="474.07" y2="763.30" stroke="#3a9a3c" stroke-width="1.2"/>
<circle cx="471.68" cy="758.60" r="3.4" fill="none" stroke="#3a9a3c" stroke-width="1.6"/>
<line x1="530.35" y1="756.00" x2="534.15" y2="756.00" stroke="#3a9a3c" stroke-width="1.2"/>
<line x1="530.35" y1="759.60" x2="534.15" y2="759.60" stroke="#3a9a3c" stroke-width="1.2"/>
<circle cx="532.25" cy="757.80" r="3.4" fill="none" stroke="#3a9a3c" stroke-width="1.6"/>
<circle cx="592.83" cy="759.50" r="3.4" fill="none" stroke="#3a9a3c" stroke-width="1.6"/>
<line x1="598.61" y1="733.15" x2="647.62" y2="729.35" stroke="#5e5528" stroke-width="1.3"/>
<circle cx="411.10" cy="744.00" r="3.4" fill="none" stroke="#5e5528" stroke-width="1.6"/>
<circle cx="592.83" cy="733.60" r="3.4" fill="none" stroke="#5e5528" stroke-width="1.6"/>
<circle cx="653.40" cy="728.90" r="3.4" fill="none" stroke="#5e5528" stroke-width="1.6"/>
<text x="75.20" y="17.30" font-family="'Liberation Sans', sans-serif" font-size="14.5" fill="#111">Group</text>
<text x="120.60" y="17.30" font-family="'Liberation Serif', serif" font-size="14.5" letter-spacing="0" fill="#111">I</text>
<line x1="72.90" y1="27.50" x2="80.70" y2="27.50" stroke="#d9283f" stroke-width="1.25"/>
<line x1="91.50" y1="27.50" x2="98.60" y2="27.50" stroke="#d9283f" stroke-width="1.25"/>
<circle cx="86.10" cy="27.50" r="3.4" fill="none" stroke="#d9283f" stroke-width="1.4"/>
<text x="100.80" y="32.80" font-family="'Liberation Sans', sans-serif" font-size="14.5" font-weight="normal" text-anchor="start" fill="#111" >Asp</text>
<line x1="126.60" y1="27.50" x2="134.50" y2="27.50" stroke="#2f6db3" stroke-width="1.25"/>
<line x1="145.30" y1="27.50" x2="152.90" y2="27.50" stroke="#2f6db3" stroke-width="1.25"/>
<circle cx="139.90" cy="27.50" r="3.4" fill="none" stroke="#2f6db3" stroke-width="1.4"/>
<text x="155.80" y="32.80" font-family="'Liberation Sans', sans-serif" font-size="14.5" font-weight="normal" text-anchor="start" fill="#111" >Asn</text>
<text x="402.50" y="10.90" font-family="'Liberation Sans', sans-serif" font-size="14.5" fill="#111">Group</text>
<text x="447.80" y="10.90" font-family="'Liberation Serif', serif" font-size="14.5" letter-spacing="-0.5" fill="#111">II</text>
<line x1="401.10" y1="21.40" x2="408.10" y2="21.40" stroke="#5b3b7d" stroke-width="1.25"/>
<line x1="418.90" y1="21.40" x2="426.00" y2="21.40" stroke="#5b3b7d" stroke-width="1.25"/>
<circle cx="413.50" cy="21.40" r="3.4" fill="none" stroke="#5b3b7d" stroke-width="1.4"/>
<text x="429.90" y="26.30" font-family="'Liberation Sans', sans-serif" font-size="14.5" font-weight="normal" text-anchor="start" fill="#111" >Ile</text>
<line x1="449.10" y1="21.40" x2="456.20" y2="21.40" stroke="#f08a30" stroke-width="1.25"/>
<line x1="467.00" y1="21.40" x2="474.50" y2="21.40" stroke="#f08a30" stroke-width="1.25"/>
<circle cx="461.60" cy="21.40" r="3.4" fill="none" stroke="#f08a30" stroke-width="1.4"/>
<text x="478.60" y="26.30" font-family="'Liberation Sans', sans-serif" font-size="14.5" font-weight="normal" text-anchor="start" fill="#111" >Val</text>
<text x="72.20" y="277.60" font-family="'Liberation Sans', sans-serif" font-size="14.5" fill="#111">Group</text>
<text x="117.60" y="277.60" font-family="'Liberation Serif', serif" font-size="14.5" letter-spacing="-0.8" fill="#111">III</text>
<line x1="51.50" y1="288.50" x2="60.25" y2="288.50" stroke="#a5c94a" stroke-width="1.1"/>
<line x1="68.15" y1="288.50" x2="76.50" y2="288.50" stroke="#a5c94a" stroke-width="1.1"/>
<circle cx="64.20" cy="288.50" r="2.6" fill="none" stroke="#a5c94a" stroke-width="1.1"/>
<text x="78.20" y="294.60" font-family="'Liberation Sans', sans-serif" font-size="14.5" font-weight="normal" text-anchor="start" fill="#111" >Ala</text>
<line x1="100.20" y1="288.50" x2="109.15" y2="288.50" stroke="#d9283f" stroke-width="1.1"/>
<line x1="117.05" y1="288.50" x2="126.10" y2="288.50" stroke="#d9283f" stroke-width="1.1"/>
<circle cx="113.10" cy="288.50" r="2.6" fill="none" stroke="#d9283f" stroke-width="1.1"/>
<text x="125.80" y="294.60" font-family="'Liberation Sans', sans-serif" font-size="14.5" font-weight="normal" text-anchor="start" fill="#111" >Leu</text>
<line x1="150.60" y1="288.50" x2="159.05" y2="288.50" stroke="#36636f" stroke-width="1.1"/>
<line x1="166.95" y1="288.50" x2="175.80" y2="288.50" stroke="#36636f" stroke-width="1.1"/>
<circle cx="163.00" cy="288.50" r="2.6" fill="none" stroke="#36636f" stroke-width="1.1"/>
<text x="176.80" y="294.60" font-family="'Liberation Sans', sans-serif" font-size="14.5" font-weight="normal" text-anchor="start" fill="#111" >Gly</text>
<text x="402.50" y="276.90" font-family="'Liberation Sans', sans-serif" font-size="14.5" fill="#111">Group</text>
<text x="448.00" y="276.90" font-family="'Liberation Serif', serif" font-size="14.5" letter-spacing="-1.0" fill="#111">IV</text>
<line x1="391.10" y1="292.30" x2="398.50" y2="292.30" stroke="#3672b6" stroke-width="1.25"/>
<line x1="409.30" y1="292.30" x2="416.50" y2="292.30" stroke="#3672b6" stroke-width="1.25"/>
<circle cx="403.90" cy="292.30" r="3.4" fill="none" stroke="#3672b6" stroke-width="1.4"/>
<text x="420.00" y="297.30" font-family="'Liberation Sans', sans-serif" font-size="14.5" font-weight="normal" text-anchor="start" fill="#111" >Gln</text>
<line x1="441.90" y1="292.30" x2="447.90" y2="292.30" stroke="#c4d7ee" stroke-width="1.25"/>
<line x1="458.70" y1="292.30" x2="466.50" y2="292.30" stroke="#c4d7ee" stroke-width="1.25"/>
<circle cx="453.30" cy="292.30" r="3.4" fill="none" stroke="#c4d7ee" stroke-width="1.4"/>
<text x="469.60" y="297.30" font-family="'Liberation Sans', sans-serif" font-size="14.5" font-weight="normal" text-anchor="start" fill="#111" >Glu</text>
<text x="74.00" y="565.80" font-family="'Liberation Sans', sans-serif" font-size="14.5" fill="#111">Group</text>
<text x="119.20" y="565.80" font-family="'Liberation Serif', serif" font-size="14.5" letter-spacing="0" fill="#111">V</text>
<line x1="72.90" y1="584.50" x2="80.40" y2="584.50" stroke="#5c2f77" stroke-width="1.25"/>
<line x1="91.20" y1="584.50" x2="98.90" y2="584.50" stroke="#5c2f77" stroke-width="1.25"/>
<circle cx="85.80" cy="584.50" r="3.4" fill="none" stroke="#5c2f77" stroke-width="1.4"/>
<text x="101.50" y="591.50" font-family="'Liberation Sans', sans-serif" font-size="14.5" font-weight="normal" text-anchor="start" fill="#111" >Pro</text>
<text x="402.90" y="563.80" font-family="'Liberation Sans', sans-serif" font-size="14.5" fill="#111">Group</text>
<text x="447.90" y="563.80" font-family="'Liberation Serif', serif" font-size="14.5" letter-spacing="0" fill="#111">VI</text>
<line x1="397.30" y1="575.50" x2="405.10" y2="575.50" stroke="#3a9a3c" stroke-width="1.25"/>
<line x1="415.90" y1="575.50" x2="423.60" y2="575.50" stroke="#3a9a3c" stroke-width="1.25"/>
<circle cx="410.50" cy="575.50" r="3.4" fill="none" stroke="#3a9a3c" stroke-width="1.4"/>
<text x="425.00" y="580.80" font-family="'Liberation Sans', sans-serif" font-size="14.5" font-weight="normal" text-anchor="start" fill="#111" >His</text>
<line x1="447.00" y1="575.50" x2="454.20" y2="575.50" stroke="#5de35d" stroke-width="1.25"/>
<line x1="465.00" y1="575.50" x2="472.40" y2="575.50" stroke="#5de35d" stroke-width="1.25"/>
<circle cx="459.60" cy="575.50" r="3.4" fill="none" stroke="#5de35d" stroke-width="1.4"/>
<text x="475.40" y="580.80" font-family="'Liberation Sans', sans-serif" font-size="14.5" font-weight="normal" text-anchor="start" fill="#111" >Lys</text>
<line x1="397.10" y1="590.80" x2="404.40" y2="590.80" stroke="#ef3fe0" stroke-width="1.25"/>
<line x1="415.20" y1="590.80" x2="422.80" y2="590.80" stroke="#ef3fe0" stroke-width="1.25"/>
<circle cx="409.80" cy="590.80" r="3.4" fill="none" stroke="#ef3fe0" stroke-width="1.4"/>
<text x="424.40" y="597.00" font-family="'Liberation Sans', sans-serif" font-size="14.5" font-weight="normal" text-anchor="start" fill="#111" >Met</text>
<line x1="449.10" y1="590.80" x2="456.40" y2="590.80" stroke="#d46edd" stroke-width="1.25"/>
<line x1="467.20" y1="590.80" x2="474.70" y2="590.80" stroke="#d46edd" stroke-width="1.25"/>
<circle cx="461.80" cy="590.80" r="3.4" fill="none" stroke="#d46edd" stroke-width="1.4"/>
<text x="477.30" y="597.00" font-family="'Liberation Sans', sans-serif" font-size="14.5" font-weight="normal" text-anchor="start" fill="#111" >Ser</text>
<line x1="500.20" y1="590.80" x2="506.90" y2="590.80" stroke="#e8b2ea" stroke-width="1.25"/>
<line x1="517.70" y1="590.80" x2="525.00" y2="590.80" stroke="#e8b2ea" stroke-width="1.25"/>
<circle cx="512.30" cy="590.80" r="3.4" fill="none" stroke="#e8b2ea" stroke-width="1.4"/>
<text x="528.90" y="597.00" font-family="'Liberation Sans', sans-serif" font-size="14.5" font-weight="normal" text-anchor="start" fill="#111" >Thr</text>
<line x1="397.10" y1="607.70" x2="404.40" y2="607.70" stroke="#5e5528" stroke-width="1.25"/>
<line x1="415.20" y1="607.70" x2="422.80" y2="607.70" stroke="#5e5528" stroke-width="1.25"/>
<circle cx="409.80" cy="607.70" r="3.4" fill="none" stroke="#5e5528" stroke-width="1.4"/>
<text x="425.60" y="614.00" font-family="'Liberation Sans', sans-serif" font-size="14.5" font-weight="normal" text-anchor="start" fill="#111" >Phe</text>
<line x1="451.40" y1="607.70" x2="458.40" y2="607.70" stroke="#a6a024" stroke-width="1.25"/>
<line x1="469.20" y1="607.70" x2="476.50" y2="607.70" stroke="#a6a024" stroke-width="1.25"/>
<circle cx="463.80" cy="607.70" r="3.4" fill="none" stroke="#a6a024" stroke-width="1.4"/>
<text x="478.60" y="614.00" font-family="'Liberation Sans', sans-serif" font-size="14.5" font-weight="normal" text-anchor="start" fill="#111" >Tyr</text>
<line x1="499.00" y1="607.60" x2="507.10" y2="607.60" stroke="#e0e64a" stroke-width="1.25"/>
<line x1="517.90" y1="607.60" x2="525.00" y2="607.60" stroke="#e0e64a" stroke-width="1.25"/>
<circle cx="512.50" cy="607.60" r="3.4" fill="none" stroke="#e0e64a" stroke-width="1.4"/>
<line x1="505.00" y1="607.60" x2="520.00" y2="607.60" stroke="#e0e64a" stroke-width="1.25"/>
<text x="527.80" y="614.00" font-family="'Liberation Sans', sans-serif" font-size="14.5" font-weight="normal" text-anchor="start" fill="#111" >Trp</text>
<text x="337.40" y="29.40" font-family="'Liberation Sans', sans-serif" font-size="17" font-weight="bold" text-anchor="start" fill="#000" class="b">a</text>
<text x="634.20" y="29.40" font-family="'Liberation Sans', sans-serif" font-size="17" font-weight="bold" text-anchor="start" fill="#000" class="b">b</text>
<text x="342.30" y="303.60" font-family="'Liberation Sans', sans-serif" font-size="17" font-weight="bold" text-anchor="start" fill="#000" class="b">c</text>
<text x="639.40" y="303.40" font-family="'Liberation Sans', sans-serif" font-size="17" font-weight="bold" text-anchor="start" fill="#000" class="b">d</text>
<text x="340.80" y="584.20" font-family="'Liberation Sans', sans-serif" font-size="17" font-weight="bold" text-anchor="start" fill="#000" class="b">e</text>
<text x="651.60" y="586.40" font-family="'Liberation Sans', sans-serif" font-size="17" font-weight="bold" text-anchor="start" fill="#000" class="b">f</text>
<text x="345.0" y="855.6" font-family="'Liberation Sans', sans-serif" font-size="18" fill="#111">T(°<tspan dx="-2.4">C)</tspan></text>
<text transform="translate(13.2,395.5) rotate(-90)" font-family="'Liberation Sans', sans-serif" font-size="18" text-anchor="middle" fill="#111">ε (‰)</text>
</svg>
</body></html>
